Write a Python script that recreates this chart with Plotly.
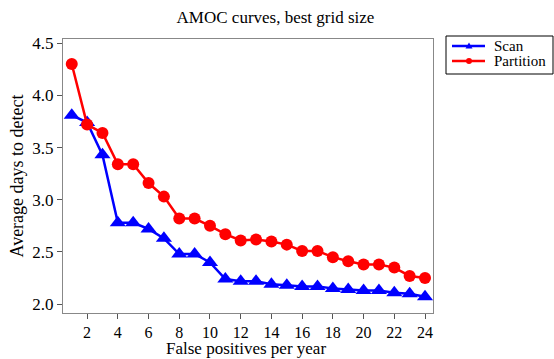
import plotly.graph_objects as go

x_vals = list(range(1, 25))
scan = [3.81, 3.74, 3.43, 2.78, 2.78, 2.72, 2.63, 2.48, 2.48, 2.40, 2.24, 2.22,
        2.22, 2.19, 2.18, 2.17, 2.17, 2.15, 2.14, 2.13, 2.13, 2.11, 2.10, 2.07]
partition = [4.30, 3.72, 3.64, 3.34, 3.34, 3.16, 3.03, 2.82, 2.82, 2.75, 2.67, 2.61,
             2.62, 2.60, 2.57, 2.51, 2.51, 2.45, 2.41, 2.38, 2.38, 2.35, 2.27, 2.25]
x_ticks = [2, 4, 6, 8, 10, 12, 14, 16, 18, 20, 22, 24]
y_ticks = [2.0, 2.5, 3.0, 3.5, 4.0, 4.5]
series_names = ["Scan", "Partition"]
series_colors = ["#0000ff", "#ff0000"]

font = "Liberation Serif"
W, H = 554, 359
L, R, T, B = 63, 121, 39, 46
pw, ph = W - L - R, H - T - B


def px(xp):
    return (xp - L) / pw


def py(yp):
    return (H - B - yp) / ph


fig = go.Figure()
fig.add_trace(go.Scatter(x=x_vals, y=scan, name=series_names[0], mode="lines+markers",
                         showlegend=False, cliponaxis=False,
                         line=dict(color=series_colors[0], width=2.5),
                         marker=dict(symbol="triangle-up", size=14, color=series_colors[0])))
fig.add_trace(go.Scatter(x=x_vals, y=partition, name=series_names[1], mode="lines+markers",
                         showlegend=False, cliponaxis=False,
                         line=dict(color=series_colors[1], width=2.5),
                         marker=dict(symbol="circle", size=12, color=series_colors[1])))

# manual compact legend
shapes = [dict(type="rect", xref="paper", yref="paper", x0=px(446), x1=px(553),
               y0=py(36), y1=py(74), line=dict(color="black", width=1), fillcolor="white")]
annotations = []
for i, (nm, col) in enumerate(zip(series_names, series_colors)):
    yy = 46 + 15 * i
    shapes.append(dict(type="line", xref="paper", yref="paper", x0=px(452), x1=px(485),
                       y0=py(yy), y1=py(yy), line=dict(color=col, width=2.5)))
    if i == 0:
        path = "M {:.4f},{:.4f} L {:.4f},{:.4f} L {:.4f},{:.4f} Z".format(
            px(469 - 3.5), py(yy + 2.5), px(469 + 3.5), py(yy + 2.5), px(469), py(yy - 3.5))
        shapes.append(dict(type="path", xref="paper", yref="paper", path=path,
                           fillcolor=col, line=dict(color=col, width=0)))
    else:
        shapes.append(dict(type="circle", xref="paper", yref="paper",
                           x0=px(469 - 3), x1=px(469 + 3), y0=py(yy + 3), y1=py(yy - 3),
                           fillcolor=col, line=dict(color=col, width=0)))
    annotations.append(dict(text=nm, xref="paper", yref="paper", x=px(493), y=py(yy),
                            xanchor="left", yanchor="middle", showarrow=False, borderpad=0,
                            font=dict(family=font, size=15, color="black")))

# x-axis title placed as annotation under the tick labels
annotations.append(dict(text="False positives per year", xref="paper", yref="paper",
                        x=px(246), y=py(348), xanchor="center", yanchor="middle",
                        showarrow=False, borderpad=0,
                        font=dict(family=font, size=17, color="black")))

fig.update_layout(
    width=W, height=H,
    margin=dict(l=L, r=R, t=T, b=B),
    paper_bgcolor="white", plot_bgcolor="white",
    font=dict(family=font, size=16, color="black"),
    title=dict(text="AMOC curves, best grid size", x=px(247), xanchor="center",
               y=(H - 17) / H, yanchor="middle", font=dict(family=font, size=17)),
    showlegend=False,
    shapes=shapes,
    annotations=annotations,
)
fig.update_xaxes(range=[0.43, 24.52], tickvals=x_ticks, ticks="outside", ticklen=5,
                 tickcolor="#555", showline=True, linecolor="#888", linewidth=1,
                 mirror=True, showgrid=False, zeroline=False, automargin=False,
                 tickfont=dict(family=font, size=16))
fig.update_yaxes(range=[1.915, 4.54], tickvals=y_ticks, tickformat=".1f", ticks="outside",
                 ticklen=5, tickcolor="#555", showline=True, linecolor="#888", linewidth=1,
                 mirror=True, showgrid=False, zeroline=False, automargin=False,
                 title=dict(text="Average days to detect", standoff=4,
                            font=dict(family=font, size=18)),
                 tickfont=dict(family=font, size=17))
fig.write_html("out.html", config={"displayModeBar": False},
               post_script="document.body.style.margin='0';document.body.style.overflow='hidden';")
